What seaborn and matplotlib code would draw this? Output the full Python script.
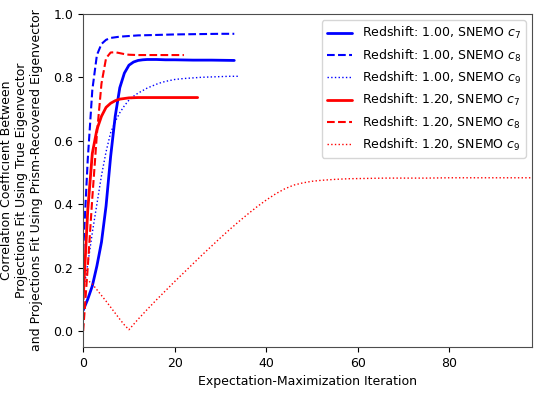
import matplotlib
matplotlib.use("Agg")
import matplotlib.pyplot as plt
import pandas as pd
import seaborn as sns

# EM iteration index and correlation values per (redshift, component)
it_z100_c7 = [0, 1, 2, 3, 4, 5, 6, 7, 8, 9, 10, 11, 12, 13, 14, 16, 18, 20, 24, 28, 33]
z100_c7 = [0.065, 0.10, 0.142, 0.205, 0.28, 0.394, 0.55, 0.677, 0.767, 0.813, 0.838,
           0.848, 0.853, 0.855, 0.856, 0.856, 0.855, 0.855, 0.854, 0.854, 0.853]

it_z100_c8 = [0, 1, 2, 3, 4, 5, 6, 8, 10, 12, 15, 20, 25, 30, 33]
z100_c8 = [0.25, 0.54, 0.76, 0.87, 0.905, 0.918, 0.924, 0.928, 0.930, 0.932,
           0.933, 0.935, 0.936, 0.937, 0.937]

it_z100_c9 = [0, 1, 2, 3, 4, 5, 6, 7, 8, 9, 10, 11, 12, 13, 14, 15, 16, 17, 18, 19, 20,
              22, 24, 26, 28, 30, 32, 34]
z100_c9 = [0.12, 0.21, 0.31, 0.40, 0.49, 0.565, 0.625, 0.66, 0.688, 0.71, 0.728, 0.740,
           0.750, 0.758, 0.766, 0.772, 0.778, 0.783, 0.787, 0.790, 0.793,
           0.796, 0.798, 0.800, 0.801, 0.802, 0.803, 0.803]

it_z120_c7 = [0, 1, 2, 3, 4, 5, 6, 7, 8, 9, 10, 12, 15, 20, 25]
z120_c7 = [0.10, 0.38, 0.56, 0.635, 0.677, 0.705, 0.718, 0.726, 0.731, 0.733, 0.735,
           0.736, 0.736, 0.736, 0.736]

it_z120_c8 = [0, 1, 2, 3, 4, 5, 6, 7, 8, 9, 10, 12, 15, 18, 22]
z120_c8 = [0.0, 0.20, 0.42, 0.62, 0.78, 0.86, 0.878, 0.879, 0.876, 0.873, 0.871,
           0.870, 0.870, 0.870, 0.870]

it_z120_c9 = [0, 1, 2, 3, 4, 5, 6, 7, 8, 9, 10, 12, 14, 16, 18, 20, 22, 24, 26, 28, 30,
              32, 34, 36, 38, 40, 42, 44, 46, 48, 50, 52, 55, 58, 62, 66, 70, 75, 80,
              85, 90, 95, 98]
z120_c9 = [0.17, 0.16, 0.148, 0.13, 0.112, 0.094, 0.075, 0.056, 0.037, 0.019, 0.004,
           0.037, 0.068, 0.098, 0.127, 0.156, 0.184, 0.212, 0.240, 0.267, 0.294,
           0.320, 0.345, 0.369, 0.392, 0.413, 0.432, 0.448, 0.460, 0.467, 0.472,
           0.475, 0.478, 0.480, 0.481, 0.482, 0.482, 0.482, 0.483, 0.483, 0.483,
           0.483, 0.483]

series = [
    ("Redshift: 1.00, SNEMO $c_7$", it_z100_c7, z100_c7, "blue", "-", 2.0),
    ("Redshift: 1.00, SNEMO $c_8$", it_z100_c8, z100_c8, "blue", "--", 1.5),
    ("Redshift: 1.00, SNEMO $c_9$", it_z100_c9, z100_c9, "blue", ":", 1.0),
    ("Redshift: 1.20, SNEMO $c_7$", it_z120_c7, z120_c7, "red", "-", 2.0),
    ("Redshift: 1.20, SNEMO $c_8$", it_z120_c8, z120_c8, "red", "--", 1.5),
    ("Redshift: 1.20, SNEMO $c_9$", it_z120_c9, z120_c9, "red", ":", 1.0),
]

sns.set_style("ticks", {"text.color": "black", "axes.labelcolor": "black",
                        "xtick.color": "black", "ytick.color": "black",
                        "axes.edgecolor": "0.3"})
plt.rcParams["font.family"] = ["DejaVu Sans"]
fs = 9

fig, ax = plt.subplots(figsize=(5.4, 3.95), dpi=100)
fig.subplots_adjust(left=0.154, right=0.985, top=0.965, bottom=0.122)

for label, xs, ys, color, ls, lw in series:
    df = pd.DataFrame({"iteration": xs, "corr": ys})
    sns.lineplot(data=df, x="iteration", y="corr", color=color, linestyle=ls,
                 linewidth=lw, label=label, ax=ax)

ax.set_xlim(0, 98)
ax.set_ylim(-0.05, 1.0)
ax.set_xticks([0, 20, 40, 60, 80])
ax.set_yticks([0.0, 0.2, 0.4, 0.6, 0.8, 1.0])
ax.tick_params(labelsize=fs)
ax.set_xlabel("Expectation-Maximization Iteration", fontsize=fs)
ax.set_ylabel("Correlation Coefficient Between\nProjections Fit Using True Eigenvector\n"
              "and Projections Fit Using Prism-Recovered Eigenvector", fontsize=fs)
ax.yaxis.set_label_coords(-0.09, 0.5)
for s in ax.spines.values():
    s.set_visible(True)
ax.legend(loc="upper right", fontsize=fs)

fig.savefig("out.png", dpi=100)
